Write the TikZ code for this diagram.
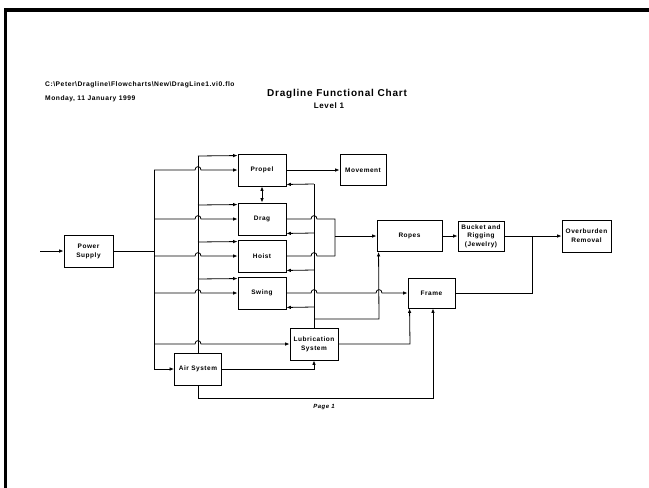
\documentclass[tikz,border=0pt]{standalone}
\usepackage{fontspec}
\setmainfont{Liberation Sans}
\newfontfamily\lsfont{Liberation Sans}[LetterSpace=8]
\usetikzlibrary{arrows.meta,calc}
\newcommand\hopx[2]{-- (#1-3,#2) .. controls (#1-3,#2-4.5) and (#1+3,#2-4.5) .. (#1+3,#2)}
\begin{document}
\begin{tikzpicture}[x=1pt,y=-1pt,
  blk/.style={draw, line width=0.9pt, inner sep=0pt, align=center,
    font=\lsfont\bfseries\fontsize{6.5}{9}\selectfont},
  ln/.style={line width=0.8pt},
  arr/.style={ln, -{Latex[length=4.5pt,width=3.6pt]}},
  darr/.style={ln, {Latex[length=4.5pt,width=3.6pt]}-{Latex[length=4.5pt,width=3.6pt]}},
  hdr/.style={anchor=west, inner sep=0pt, font=\lsfont\bfseries\fontsize{6.7}{8}\selectfont},
  ttl/.style={inner sep=0pt, font=\lsfont\bfseries\fontsize{10}{12}\selectfont}
]
\useasboundingbox (0,0) rectangle (649,488);
\fill[white] (0,0) rectangle (649,488);
\draw[line width=3.5pt] (5.3,488) -- (5.3,10) -- (649,10);

% texts
\node[hdr] (path) at (45,85) {C:\textbackslash Peter\textbackslash Dragline\textbackslash Flowcharts\textbackslash New\textbackslash DragLine1.vi0.flo};
\node[hdr] (date) at (45,99) {Monday, 11 January 1999};
\node[ttl] (title) at (337,94) {Dragline Functional Chart};
\node[ttl, font=\lsfont\bfseries\fontsize{8}{10}\selectfont] (level) at (329,106) {Level 1};
\node[inner sep=0pt, font=\lsfont\bfseries\itshape\fontsize{6}{7}\selectfont] (page) at (324,407) {Page 1};

% boxes
\node[blk, minimum width=49pt, minimum height=32pt] (ps) at (88.5,251) {Power\\Supply};
\node[blk, minimum width=48pt, minimum height=32pt] (propel) at (262,170) {Propel};
\node[blk, minimum width=46pt, minimum height=31pt] (move) at (363,170) {Movement};
\node[blk, minimum width=48pt, minimum height=32pt] (drag) at (262,219) {Drag};
\node[blk, minimum width=48pt, minimum height=32pt] (hoist) at (262,256) {Hoist};
\node[blk, minimum width=48pt, minimum height=32pt] (swing) at (262,293) {Swing};
\node[blk, minimum width=65pt, minimum height=31pt] (ropes) at (409.5,236) {Ropes};
\node[blk, minimum width=46pt, minimum height=30pt, font=\lsfont\bfseries\fontsize{6.5}{8.5}\selectfont] (bucket) at (481,236) {Bucket and\\Rigging\\(Jewelry)};
\node[blk, minimum width=49pt, minimum height=32pt] (over) at (586.5,236) {Overburden\\Removal};
\node[blk, minimum width=47pt, minimum height=30pt] (frame) at (431.5,293) {Frame};
\node[blk, minimum width=48pt, minimum height=32pt] (lub) at (314,344) {Lubrication\\System};
\node[blk, minimum width=47pt, minimum height=32pt] (air) at (198,369) {Air System};

% power input and bus A
\coordinate (in) at (40,251);
\coordinate (a0) at (154,251);
\coordinate (a1) at (154,170);
\coordinate (a6) at (154,369);
\draw[arr] (in) -- (ps.west);
\draw[ln] (ps.east) -- (a0);
\draw[ln] (a1) -- (a6);
\draw[arr] (a1) \hopx{198}{170} -- (propel.west);
\draw[arr] (154,219) \hopx{198}{219} -- (drag.west);
\draw[arr] (154,256) \hopx{198}{256} -- (hoist.west);
\draw[arr] (154,293) \hopx{198}{293} -- (swing.west);
\draw[arr] (154,344) \hopx{198}{344} -- (lub.west);
\draw[arr] (a6) -- (air.west);

% bus B (air)
\coordinate (b1) at (198,156);
\draw[ln] (air.north) -- (b1);
\draw[arr] (b1) -- ($(propel.north west)+(0,2)$);
\draw[arr] (198,205) -- ($(drag.north west)+(0,2)$);
\draw[arr] (198,242) -- ($(hoist.north west)+(0,2)$);
\draw[arr] (198,279) -- ($(swing.north west)+(0,2)$);

% bus C (lubrication)
\coordinate (c1) at (314,184);
\draw[ln] (lub.north) -- (c1);
\draw[arr] (c1) -- ($(propel.south east)+(0,-2)$);
\draw[arr] (314,233) -- ($(drag.south east)+(0,-2)$);
\draw[arr] (314,270) -- ($(hoist.south east)+(0,-2)$);
\draw[arr] (314,307) -- ($(swing.south east)+(0,-2)$);
\draw[arr] (314,319) -- (379,319) -- ($(ropes.south west)+(2,0)$);

% drag / hoist to ropes
\coordinate (j) at (335,236);
\draw[ln] (drag.east) \hopx{314}{219} -- (335,219) -- (335,256);
\draw[ln] (hoist.east) \hopx{314}{256} -- (335,256);
\draw[arr] (j) -- (ropes.west);

% other links
\draw[darr] (propel.south) -- (drag.north);
\draw[arr] (propel.east) -- (move.west);
\draw[arr] (swing.east) \hopx{314}{293} \hopx{379}{293} -- (frame.west);
\draw[arr] (ropes.east) -- (bucket.west);
\draw[arr] (bucket.east) -- (over.west);
\coordinate (k) at (532,236);
\draw[ln] (frame.east) -- (532,293) -- (k);
\draw[arr] (lub.east) -- (410,344) -- ($(frame.south west)+(2,0)$);
\draw[arr] (air.east) -- (314,369) -- (lub.south);
\draw[arr] (air.south) -- (198,398) -- (433,398) -- ($(frame.south)+(1.5,0)$);
\end{tikzpicture}
\end{document}
